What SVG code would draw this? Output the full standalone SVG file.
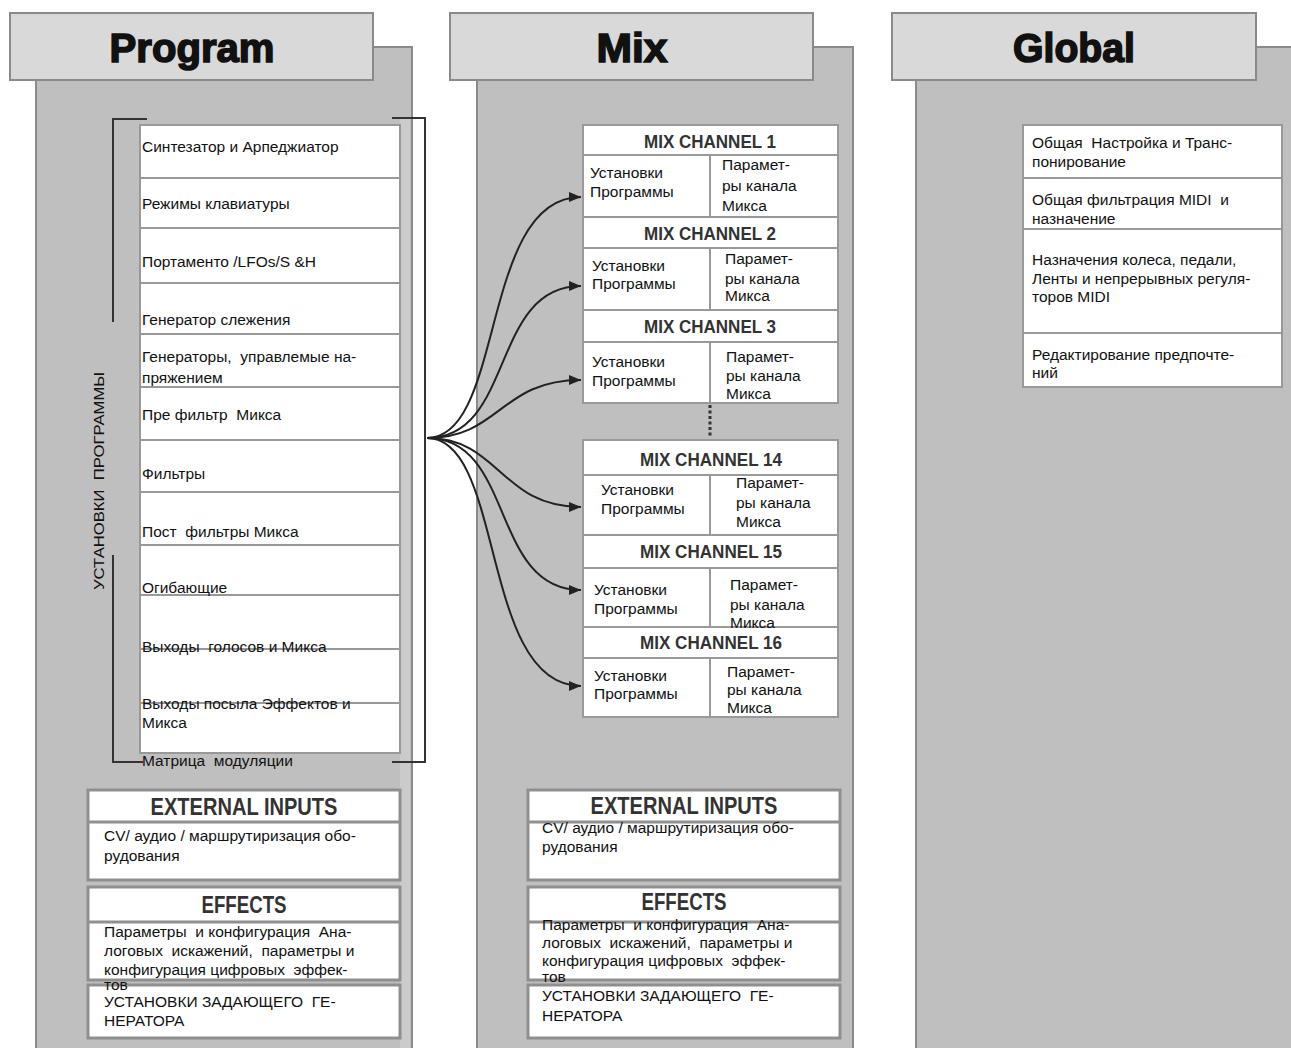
<svg xmlns="http://www.w3.org/2000/svg" width="1291" height="1048" viewBox="0 0 1291 1048">
<defs>
<style>
.panel{fill:#bfbfbf;stroke:#8a8a8a;stroke-width:2}
.hdr{fill:#d9d9d9;stroke:#8a8a8a;stroke-width:2}
.title{font-family:"Liberation Sans",Arial,sans-serif;font-weight:bold;font-size:41px;fill:#111;stroke:#111;stroke-width:1.6;text-anchor:middle}
.box{fill:#fff;stroke:#999;stroke-width:2}
.box3{fill:#fff;stroke:#8f8f8f;stroke-width:3}
.ln{stroke:#999;stroke-width:2;fill:none}
.ln3{stroke:#8f8f8f;stroke-width:3;fill:none}
.t{font-family:"Liberation Sans",Arial,sans-serif;font-size:15.5px;fill:#111;white-space:pre}
.ch{font-family:"Liberation Sans",Arial,sans-serif;font-weight:bold;font-size:18px;fill:#333;text-anchor:middle}
.big{font-family:"Liberation Sans",Arial,sans-serif;font-weight:bold;font-size:24px;fill:#333;text-anchor:middle}
.br{stroke:#333;stroke-width:2;fill:none}
.conn{fill:none;stroke:#222;stroke-width:2;marker-end:url(#arr)}
</style>
<marker id="arr" markerUnits="userSpaceOnUse" markerWidth="12" markerHeight="10" refX="12" refY="5" orient="auto">
<path d="M0,0 L12,5 L0,10 z" fill="#222"/>
</marker>
</defs>
<rect width="1291" height="1048" fill="#fff"/>

<!-- Program panel -->
<g id="program-panel">
<rect class="panel" x="36" y="47" width="376" height="1020"/>
<rect x="400" y="118" width="10" height="940" fill="#cbcbcb"/>
<rect class="hdr" x="10" y="13" width="363" height="67"/>
<text class="title" x="192" y="62" textLength="165" lengthAdjust="spacingAndGlyphs">Program</text>
</g>

<!-- Mix panel -->
<g id="mix-panel">
<rect class="panel" x="477" y="47" width="376" height="1020"/>
<rect class="hdr" x="450" y="13" width="363" height="67"/>
<text class="title" x="632" y="62" textLength="71" lengthAdjust="spacingAndGlyphs">Mix</text>
</g>

<!-- Global panel -->
<g id="global-panel">
<rect class="panel" x="916" y="47" width="400" height="1020"/>
<rect class="hdr" x="892" y="13" width="364" height="67"/>
<text class="title" x="1074" y="62" textLength="122" lengthAdjust="spacingAndGlyphs">Global</text>
</g>

<!-- Program list -->
<g id="program-list">
<rect class="box" x="140" y="125" width="260" height="628"/>
<path class="ln" d="M140,178H400M140,228H400M140,283H400M140,334H400M140,387H400M140,440H400M140,492H400M140,545H400M140,595H400M140,649H400M140,703H400"/>
<text class="t" x="142" y="152">Синтезатор и Арпеджиатор</text>
<text class="t" x="142" y="209">Режимы клавиатуры</text>
<text class="t" x="142" y="267">Портаменто /LFOs/S &amp;H</text>
<text class="t" x="142" y="325">Генератор слежения</text>
<text class="t" x="142" y="362">Генераторы,  управлемые на-</text>
<text class="t" x="142" y="383">пряжением</text>
<text class="t" x="142" y="420">Пре фильтр  Микса</text>
<text class="t" x="142" y="479">Фильтры</text>
<text class="t" x="142" y="537">Пост  фильтры Микса</text>
<text class="t" x="142" y="593">Огибающие</text>
<text class="t" x="142" y="652">Выходы  голосов и Микса</text>
<text class="t" x="142" y="709">Выходы посыла Эффектов и</text>
<text class="t" x="142" y="728">Микса</text>
<text class="t" x="142" y="766">Матрица  модуляции</text>
</g>

<g id="program-brackets">
<path class="br" d="M147,119H113V322" stroke-width="3" stroke="#555"/>
<path class="br" d="M113,555V762H143"/>
<path class="br" d="M392,118H425V762H392"/>
<text class="t" transform="translate(104,481) rotate(-90)" text-anchor="middle" textLength="218" lengthAdjust="spacingAndGlyphs">УСТАНОВКИ  ПРОГРАММЫ</text>
</g>

<!-- Program external inputs / effects -->
<g id="program-external">
<rect class="box3" x="88" y="790" width="312" height="90"/>
<path class="ln3" d="M88,822H400"/>
<text class="big" x="244" y="815" textLength="187" lengthAdjust="spacingAndGlyphs">EXTERNAL INPUTS</text>
<text class="t" x="104" y="841">CV/ аудио / маршрутиризация обо-</text>
<text class="t" x="104" y="861">рудования</text>
</g>
<g id="program-effects">
<rect class="box3" x="88" y="887" width="312" height="93"/>
<path class="ln3" d="M88,922H400"/>
<text class="big" x="244" y="913" textLength="85" lengthAdjust="spacingAndGlyphs">EFFECTS</text>
<text class="t" x="104" y="937">Параметры  и конфигурация  Ана-</text>
<text class="t" x="104" y="956">логовых  искажений,  параметры и</text>
<text class="t" x="104" y="975">конфигурация цифровых  эффек-</text>
</g>
<g id="program-master">
<rect class="box3" x="88" y="985" width="312" height="53"/>
<text class="t" x="104" y="990">тов</text>
<text class="t" x="104" y="1007">УСТАНОВКИ ЗАДАЮЩЕГО  ГЕ-</text>
<text class="t" x="104" y="1026">НЕРАТОРА</text>
</g>

<!-- Mix channels -->
<g id="mix-channels-a">
<rect class="box" x="583" y="125" width="255" height="278"/>
<path class="ln" d="M583,155H838M583,217H838M583,248H838M583,310H838M583,342H838M710,155V217M710,248V310M710,342V403"/>
<text class="ch" x="710" y="148" textLength="132" lengthAdjust="spacingAndGlyphs">MIX CHANNEL 1</text>
<text class="t" x="590" y="178">Установки</text>
<text class="t" x="590" y="197">Программы</text>
<text class="t" x="722" y="170">Парамет-</text>
<text class="t" x="722" y="191">ры канала</text>
<text class="t" x="722" y="211">Микса</text>
<text class="ch" x="710" y="240" textLength="132" lengthAdjust="spacingAndGlyphs">MIX CHANNEL 2</text>
<text class="t" x="592" y="271">Установки</text>
<text class="t" x="592" y="289">Программы</text>
<text class="t" x="725" y="264">Парамет-</text>
<text class="t" x="725" y="284">ры канала</text>
<text class="t" x="725" y="301">Микса</text>
<text class="ch" x="710" y="333" textLength="132" lengthAdjust="spacingAndGlyphs">MIX CHANNEL 3</text>
<text class="t" x="592" y="367">Установки</text>
<text class="t" x="592" y="386">Программы</text>
<text class="t" x="726" y="362">Парамет-</text>
<text class="t" x="726" y="381">ры канала</text>
<text class="t" x="726" y="399">Микса</text>
</g>
<path d="M710,405V438" stroke="#333" stroke-width="3" stroke-dasharray="3,2.5"/>
<g id="mix-channels-b">
<rect class="box" x="583" y="440" width="255" height="277"/>
<path class="ln" d="M583,475H838M583,535H838M583,568H838M583,627H838M583,658H838M710,475V535M710,568V627M710,658V717"/>
<text class="ch" x="711" y="466" textLength="142" lengthAdjust="spacingAndGlyphs">MIX CHANNEL 14</text>
<text class="t" x="601" y="495">Установки</text>
<text class="t" x="601" y="514">Программы</text>
<text class="t" x="736" y="488">Парамет-</text>
<text class="t" x="736" y="508">ры канала</text>
<text class="t" x="736" y="527">Микса</text>
<text class="ch" x="711" y="558" textLength="142" lengthAdjust="spacingAndGlyphs">MIX CHANNEL 15</text>
<text class="t" x="594" y="595">Установки</text>
<text class="t" x="594" y="614">Программы</text>
<text class="t" x="730" y="590">Парамет-</text>
<text class="t" x="730" y="610">ры канала</text>
<text class="t" x="730" y="628">Микса</text>
<text class="ch" x="711" y="649" textLength="142" lengthAdjust="spacingAndGlyphs">MIX CHANNEL 16</text>
<text class="t" x="594" y="681">Установки</text>
<text class="t" x="594" y="699">Программы</text>
<text class="t" x="727" y="677">Парамет-</text>
<text class="t" x="727" y="695">ры канала</text>
<text class="t" x="727" y="713">Микса</text>
</g>

<!-- Mix external / effects -->
<g id="mix-external">
<rect class="box3" x="528" y="790" width="312" height="90"/>
<path class="ln3" d="M528,822H840"/>
<text class="big" x="684" y="814" textLength="187" lengthAdjust="spacingAndGlyphs">EXTERNAL INPUTS</text>
<text class="t" x="542" y="833">CV/ аудио / маршрутиризация обо-</text>
<text class="t" x="542" y="852">рудования</text>
</g>
<g id="mix-effects">
<rect class="box3" x="528" y="887" width="312" height="93"/>
<path class="ln3" d="M528,922H840"/>
<text class="big" x="684" y="910" textLength="85" lengthAdjust="spacingAndGlyphs">EFFECTS</text>
<text class="t" x="542" y="930">Параметры  и конфигурация  Ана-</text>
<text class="t" x="542" y="948">логовых  искажений,  параметры и</text>
<text class="t" x="542" y="966">конфигурация цифровых  эффек-</text>
</g>
<g id="mix-master">
<rect class="box3" x="528" y="985" width="312" height="53"/>
<text class="t" x="542" y="982">тов</text>
<text class="t" x="542" y="1001">УСТАНОВКИ ЗАДАЮЩЕГО  ГЕ-</text>
<text class="t" x="542" y="1021">НЕРАТОРА</text>
</g>

<!-- Global list -->
<g id="global-list">
<rect class="box" x="1023" y="125" width="259" height="262"/>
<path class="ln" d="M1023,178H1282M1023,229H1282M1023,333H1282"/>
<text class="t" x="1032" y="148">Общая  Настройка и Транс-</text>
<text class="t" x="1032" y="167">понирование</text>
<text class="t" x="1032" y="205">Общая фильтрация MIDI  и</text>
<text class="t" x="1032" y="224">назначение</text>
<text class="t" x="1032" y="265">Назначения колеса, педали,</text>
<text class="t" x="1032" y="284">Ленты и непрерывных регуля-</text>
<text class="t" x="1032" y="302">торов MIDI</text>
<text class="t" x="1032" y="360">Редактирование предпочте-</text>
<text class="t" x="1032" y="378">ний</text>
</g>

<!-- Connectors -->
<g id="connectors">
<path class="conn" d="M427,438 C505,438 480,197 581,197"/>
<path class="conn" d="M427,438 C515,438 490,286 581,286"/>
<path class="conn" d="M427,438 C500,438 500,380 581,380"/>
<path class="conn" d="M427,438 C500,438 500,507 581,507"/>
<path class="conn" d="M427,438 C515,438 490,590 581,590"/>
<path class="conn" d="M427,438 C505,438 480,686 581,686"/>
</g>
</svg>
